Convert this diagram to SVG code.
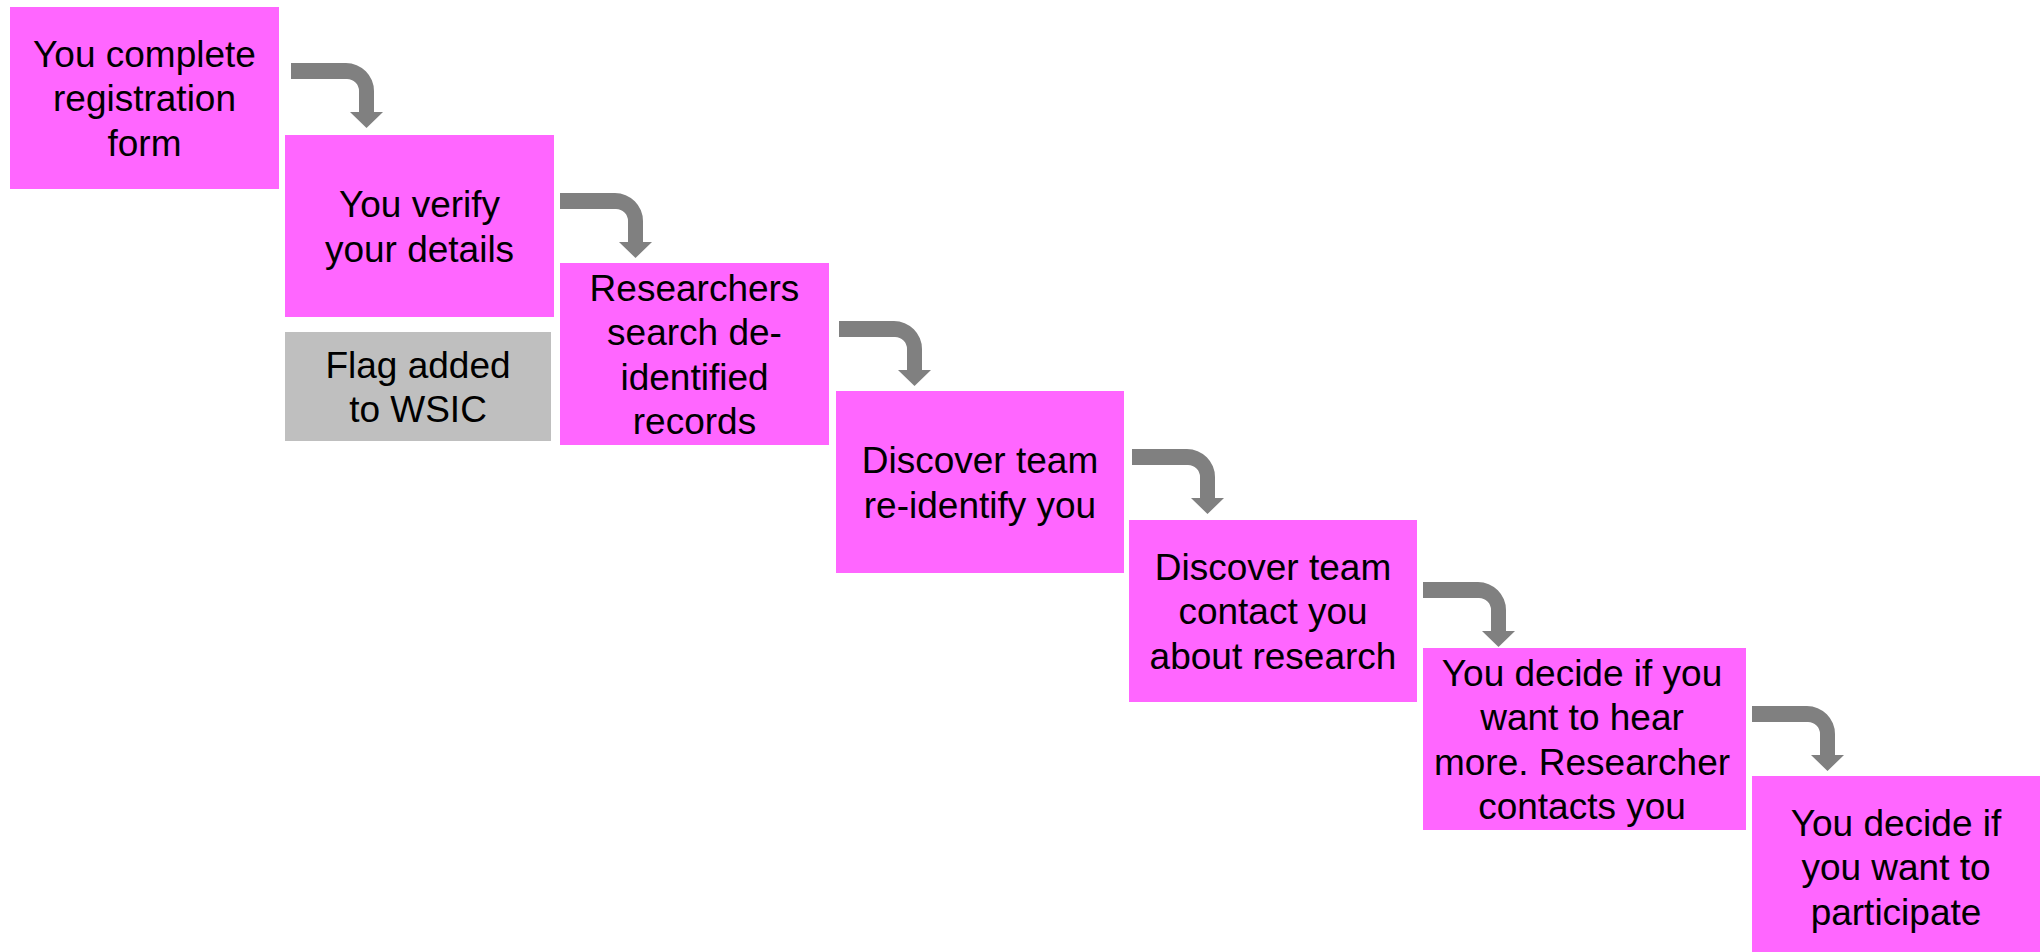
<svg xmlns="http://www.w3.org/2000/svg" xmlns:xlink="http://www.w3.org/1999/xlink" width="2044" height="952" viewBox="0 0 2044 952">
<style>
.box{fill:#FF66FF;}
.flag{fill:#BFBFBF;}
.lbl{font-family:"Liberation Sans",Arial,sans-serif;font-size:37px;fill:#000000;text-anchor:middle;}
.arr{fill:#808080;}
</style>
<defs>
<path id="bend" d="M0,0 H55 A28,28 0 0 1 83,28 V49 H92 L75.5,65 L59,49 H68 V28 A12,12 0 0 0 56,16 H0 Z"/>
</defs>
<rect width="2044" height="952" fill="#FFFFFF"/>
<g id="connectors" class="arr">
<use xlink:href="#bend" href="#bend" x="291" y="63"/>
<use xlink:href="#bend" href="#bend" x="560" y="193"/>
<use xlink:href="#bend" href="#bend" x="839" y="321"/>
<use xlink:href="#bend" href="#bend" x="1132" y="449"/>
<use xlink:href="#bend" href="#bend" x="1423" y="582"/>
<use xlink:href="#bend" href="#bend" x="1752" y="706"/>
</g>
<g id="n1">
<rect class="box" x="10" y="7" width="269" height="182"/>
<text class="lbl" x="144.5" y="66.5">You complete</text>
<text class="lbl" x="144.5" y="111">registration</text>
<text class="lbl" x="144.5" y="155.5">form</text>
</g>
<g id="n2">
<rect class="box" x="285" y="135" width="269" height="182"/>
<text class="lbl" x="419.5" y="217">You verify</text>
<text class="lbl" x="419.5" y="261.5">your details</text>
</g>
<g id="flag">
<rect class="flag" x="285" y="332" width="266" height="109"/>
<text class="lbl" x="418" y="377.5">Flag added</text>
<text class="lbl" x="418" y="422">to WSIC</text>
</g>
<g id="n3">
<rect class="box" x="560" y="263" width="269" height="182"/>
<text class="lbl" x="694.5" y="300.5">Researchers</text>
<text class="lbl" x="694.5" y="345">search de-</text>
<text class="lbl" x="694.5" y="389.5">identified</text>
<text class="lbl" x="694.5" y="434">records</text>
</g>
<g id="n4">
<rect class="box" x="836" y="391" width="288" height="182"/>
<text class="lbl" x="980" y="473">Discover team</text>
<text class="lbl" x="980" y="517.5">re-identify you</text>
</g>
<g id="n5">
<rect class="box" x="1129" y="520" width="288" height="182"/>
<text class="lbl" x="1273" y="579.5">Discover team</text>
<text class="lbl" x="1273" y="624">contact you</text>
<text class="lbl" x="1273" y="668.5">about research</text>
</g>
<g id="n6">
<rect class="box" x="1423" y="648" width="323" height="182"/>
<text class="lbl" x="1582" y="685.5">You decide if you</text>
<text class="lbl" x="1582" y="730">want to hear</text>
<text class="lbl" x="1582" y="774.5">more. Researcher</text>
<text class="lbl" x="1582" y="819">contacts you</text>
</g>
<g id="n7">
<rect class="box" x="1752" y="776" width="288" height="182"/>
<text class="lbl" x="1896" y="835.5">You decide if</text>
<text class="lbl" x="1896" y="880">you want to</text>
<text class="lbl" x="1896" y="924.5">participate</text>
</g>
</svg>
